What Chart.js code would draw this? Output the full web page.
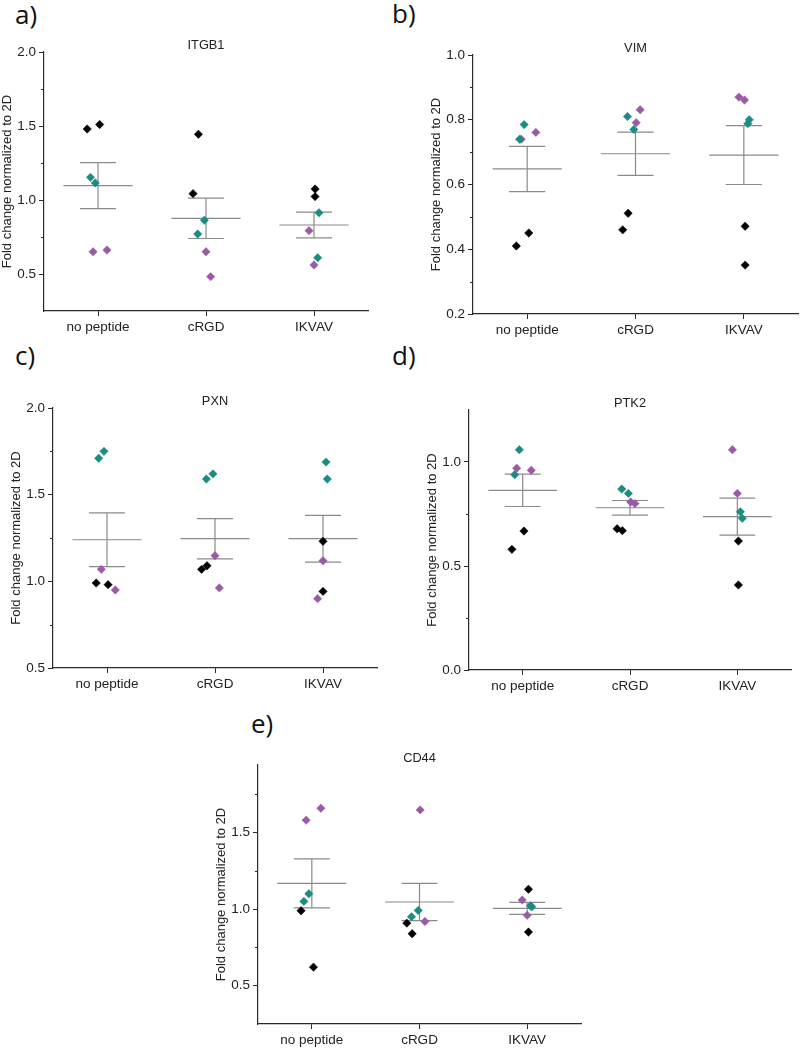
<!DOCTYPE html>
<html>
<head>
<meta charset="utf-8">
<script src="https://cdn.jsdelivr.net/npm/chart.js@4.4.0/dist/chart.umd.min.js"></script>
<style>
  body { margin: 0; background: #fff; width: 800px; height: 1048px; position: relative; overflow: hidden; }
  canvas { position: absolute; }
  .lbl { position: absolute; font-family: 'Open Sans', sans-serif; font-size: 26px; line-height: 1; color: #111; }
</style>
</head>
<body>
<div class="lbl" style="left:15px;top:1px">a)</div>
<div class="lbl" style="left:392px;top:0px">b)</div>
<div class="lbl" style="left:15px;top:342px">c)</div>
<div class="lbl" style="left:392px;top:342px">d)</div>
<div class="lbl" style="left:251px;top:710px">e)</div>
<canvas id="cA"></canvas>
<canvas id="cB"></canvas>
<canvas id="cC"></canvas>
<canvas id="cD"></canvas>
<canvas id="cE"></canvas>
<script>
'use strict';
var categories = ['no peptide', 'cRGD', 'IKVAV'];
// each series: 2 replicates per condition -> np, np, cRGD, cRGD, IKVAV, IKVAV
// *Jit = horizontal scatter of the point around its category (in category units)

// a) ITGB1
var itgb1Black = [1.48, 1.51, 1.444, 1.043, 1.074, 1.023];
var itgb1BlackJit = [-0.10, 0.015, -0.07, -0.12, 0.01, 0.01];
var itgb1Teal = [1.153, 1.115, 0.863, 0.77, 0.914, 0.61];
var itgb1TealJit = [-0.07, -0.025, -0.015, -0.077, 0.046, 0.034];
var itgb1Purple = [0.65, 0.662, 0.65, 0.482, 0.793, 0.561];
var itgb1PurpleJit = [-0.046, 0.083, 0, 0.043, -0.046, 0];
var itgb1Mean = [1.097, 0.876, 0.831];
var itgb1Sem = [0.155, 0.136, 0.087];
var itgb1Ticks = [0.5, 1.0, 1.5, 2.0];
var itgb1Minor = [0.75, 1.25, 1.75];

// b) VIM
var vimBlack = [0.41, 0.45, 0.511, 0.46, 0.471, 0.351];
var vimBlackJit = [-0.10, 0.015, -0.068, -0.118, 0.012, 0.012];
var vimTeal = [0.785, 0.74, 0.81, 0.77, 0.80, 0.788];
var vimTealJit = [-0.028, -0.07, -0.074, -0.015, 0.05, 0.037];
var vimPurple = [0.74, 0.761, 0.831, 0.791, 0.87, 0.861];
var vimPurpleJit = [-0.055, 0.08, 0.043, 0.006, -0.046, 0.006];
var vimMean = [0.648, 0.695, 0.691];
var vimSem = [0.07, 0.067, 0.091];
var vimTicks = [0.2, 0.4, 0.6, 0.8, 1.0];
var vimMinor = [0.3, 0.5, 0.7, 0.9];

// c) PXN
var pxnBlack = [0.99, 0.981, 1.069, 1.09, 1.231, 0.942];
var pxnBlackJit = [-0.10, 0.01, -0.124, -0.074, 0, 0];
var pxnTeal = [1.71, 1.75, 1.59, 1.62, 1.688, 1.59];
var pxnTealJit = [-0.077, -0.028, -0.08, -0.019, 0.028, 0.04];
var pxnPurple = [1.069, 0.95, 1.148, 0.962, 1.119, 0.9];
var pxnPurpleJit = [-0.053, 0.077, 0, 0.04, 0, -0.05];
var pxnMean = [1.24, 1.246, 1.246];
var pxnSem = [0.155, 0.116, 0.135];
var pxnTicks = [0.5, 1.0, 1.5, 2.0];
var pxnMinor = [0.75, 1.25, 1.75];

// d) PTK2
var ptk2Black = [0.668, 0.58, 0.679, 0.67, 0.62, 0.409];
var ptk2BlackJit = [0.012, -0.10, -0.12, -0.071, 0.01, 0.01];
var ptk2Teal = [1.059, 0.939, 0.87, 0.849, 0.761, 0.729];
var ptk2TealJit = [-0.031, -0.074, -0.077, -0.015, 0.028, 0.046];
var ptk2Purple = [0.97, 0.96, 0.808, 0.80, 1.059, 0.849];
var ptk2PurpleJit = [-0.056, 0.08, 0.006, 0.046, -0.046, 0];
var ptk2Mean = [0.864, 0.78, 0.737];
var ptk2Sem = [0.078, 0.035, 0.089];
var ptk2Ticks = [0.0, 0.5, 1.0];
var ptk2Minor = [0.25, 0.75];

// e) CD44
var cd44Black = [0.989, 0.621, 0.908, 0.839, 1.129, 0.85];
var cd44BlackJit = [-0.10, 0.015, -0.118, -0.068, 0.012, 0.012];
var cd44Teal = [1.05, 1.10, 0.95, 0.991, 1.015, 1.022];
var cd44TealJit = [-0.074, -0.028, -0.074, -0.012, 0.043, 0.03];
var cd44Purple = [1.58, 1.658, 1.647, 0.919, 1.059, 0.959];
var cd44PurpleJit = [-0.053, 0.084, 0.006, 0.05, -0.046, 0];
var cd44Mean = [1.168, 1.046, 1.004];
var cd44Sem = [0.16, 0.122, 0.039];
var cd44Ticks = [0.5, 1.0, 1.5];
var cd44Minor = [0.75, 1.25, 1.75];

var FONT = "'Liberation Sans', Arial, sans-serif";
var AXIS = '#2a2a2a';
var TEXT = '#222';
var BAR = '#8a8a8a';
var MEAN_HALF = 0.32;
var CAP_HALF = 0.167;

function points(vals, jit) {
  return vals.map(function (v, i) {
    return { x: Math.floor(i / 2) + 0.5 + jit[i], y: v };
  });
}

function errBars(mean, sem) {
  var pts = [];
  mean.forEach(function (m, i) {
    var c = i + 0.5, hi = m + sem[i], lo = m - sem[i];
    pts.push({ x: c - MEAN_HALF, y: m }, { x: c + MEAN_HALF, y: m }, { x: c, y: null });
    pts.push({ x: c - CAP_HALF, y: hi }, { x: c + CAP_HALF, y: hi }, { x: c, y: null });
    pts.push({ x: c - CAP_HALF, y: lo }, { x: c + CAP_HALF, y: lo }, { x: c, y: null });
    pts.push({ x: c, y: lo }, { x: c, y: hi }, { x: c, y: null });
  });
  return pts;
}

function dots(vals, jit, color) {
  return {
    data: points(vals, jit),
    pointStyle: 'rectRot',
    pointRadius: 4.2,
    pointBorderWidth: 0.5,
    backgroundColor: color,
    borderColor: color,
    order: 1
  };
}

var minorTicks = {
  id: 'minorTicks',
  afterDraw: function (chart, args, opts) {
    var y = chart.scales.y, ctx = chart.ctx, x0 = chart.chartArea.left;
    ctx.save();
    ctx.strokeStyle = AXIS;
    ctx.lineWidth = 1;
    opts.values.forEach(function (v) {
      var py = Math.round(y.getPixelForValue(v)) + 0.5;
      ctx.beginPath();
      ctx.moveTo(x0 - 3, py);
      ctx.lineTo(x0, py);
      ctx.stroke();
    });
    ctx.restore();
  }
};

// plot area corners in page pixels
function panel(id, area, title, yMin, yMax, ticks, minor, black, blackJit, teal, tealJit, purple, purpleJit, mean, sem) {
  var cv = document.getElementById(id);
  cv.width = 44 + (area.R - area.L) + 6;
  cv.height = 18 + (area.B - area.T) + 26;
  cv.style.left = (area.L - 44) + 'px';
  cv.style.top = (area.T - 18) + 'px';

  new Chart(cv.getContext('2d'), {
    type: 'scatter',
    data: {
      datasets: [
        {
          data: errBars(mean, sem),
          showLine: true,
          spanGaps: false,
          borderColor: BAR,
          borderWidth: 1.2,
          pointRadius: 0,
          order: 2
        },
        dots(black, blackJit, '#000000'),
        dots(teal, tealJit, '#1b8c82'),
        dots(purple, purpleJit, '#9b5aa6')
      ]
    },
    options: {
      responsive: false,
      animation: false,
      events: [],
      layout: { padding: { top: 5.2, right: 6, bottom: 0, left: 0 } },
      plugins: {
        legend: { display: false },
        tooltip: { enabled: false },
        title: {
          display: true, text: title, fullSize: false, padding: 0, color: TEXT,
          font: { family: FONT, size: 12.8, weight: 'normal', lineHeight: 1 }
        },
        minorTicks: { values: minor }
      },
      scales: {
        x: {
          type: 'linear', min: 0, max: 3,
          afterBuildTicks: function (s) {
            s.ticks = categories.map(function (c, i) { return { value: i + 0.5 }; });
          },
          afterFit: function (s) { s.height = 26; s.paddingLeft = 0; s.paddingRight = 0; },
          ticks: {
            callback: function (v, i) { return categories[i]; },
            font: { family: FONT, size: 13.5 }, color: TEXT, padding: 3,
            maxRotation: 0, autoSkip: false
          },
          grid: { drawOnChartArea: false, tickLength: 5, tickColor: AXIS, tickWidth: 1 },
          border: { color: AXIS, width: 1.2 }
        },
        y: {
          type: 'linear', min: yMin, max: yMax,
          afterBuildTicks: function (s) {
            s.ticks = ticks.map(function (v) { return { value: v }; });
          },
          afterFit: function (s) { s.width = 44; s.paddingTop = 0; s.paddingBottom = 0; },
          ticks: {
            callback: function (v) { return Number(v).toFixed(1); },
            font: { family: FONT, size: 13.5 }, color: TEXT, padding: 3
          },
          grid: { drawOnChartArea: false, tickLength: 5, tickColor: AXIS, tickWidth: 1 },
          border: { color: AXIS, width: 1.2 },
          title: {
            display: true, text: 'Fold change normalized to 2D', color: TEXT, padding: 0,
            font: { family: FONT, size: 13, lineHeight: 1.1 }
          }
        }
      }
    },
    plugins: [minorTicks]
  });
}

panel('cA', { L: 44, T: 52, R: 368, B: 311 }, 'ITGB1', 0.25, 2.0, itgb1Ticks, itgb1Minor,
  itgb1Black, itgb1BlackJit, itgb1Teal, itgb1TealJit, itgb1Purple, itgb1PurpleJit, itgb1Mean, itgb1Sem);
panel('cB', { L: 473, T: 55, R: 798, B: 314 }, 'VIM', 0.2, 1.0, vimTicks, vimMinor,
  vimBlack, vimBlackJit, vimTeal, vimTealJit, vimPurple, vimPurpleJit, vimMean, vimSem);
panel('cC', { L: 53, T: 408, R: 377, B: 668 }, 'PXN', 0.5, 2.0, pxnTicks, pxnMinor,
  pxnBlack, pxnBlackJit, pxnTeal, pxnTealJit, pxnPurple, pxnPurpleJit, pxnMean, pxnSem);
panel('cD', { L: 469, T: 410, R: 791, B: 670 }, 'PTK2', 0.0, 1.25, ptk2Ticks, ptk2Minor,
  ptk2Black, ptk2BlackJit, ptk2Teal, ptk2TealJit, ptk2Purple, ptk2PurpleJit, ptk2Mean, ptk2Sem);
panel('cE', { L: 258, T: 765, R: 581, B: 1024 }, 'CD44', 0.25, 1.94, cd44Ticks, cd44Minor,
  cd44Black, cd44BlackJit, cd44Teal, cd44TealJit, cd44Purple, cd44PurpleJit, cd44Mean, cd44Sem);
</script>
</body>
</html>
